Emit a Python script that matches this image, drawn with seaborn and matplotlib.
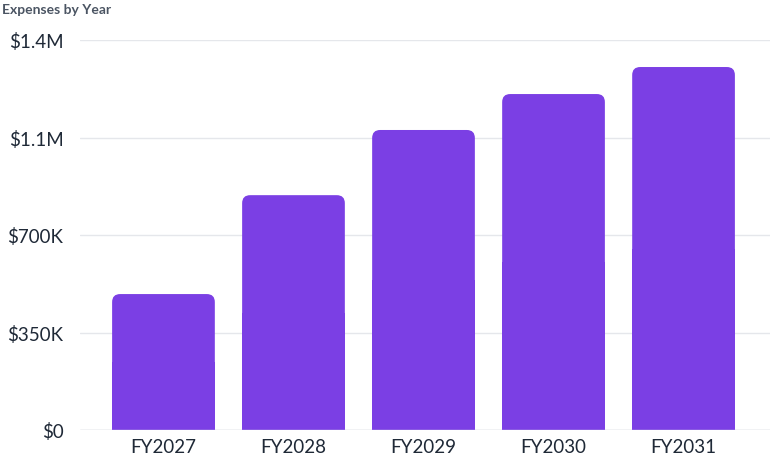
import matplotlib
matplotlib.use("Agg")
import matplotlib.pyplot as plt
import seaborn as sns
import pandas as pd
from matplotlib.patches import FancyBboxPatch

years = ["FY2027", "FY2028", "FY2029", "FY2030", "FY2031"]
expenses = [488000, 843000, 1077000, 1206000, 1303000]
tick_vals = [0, 350000, 700000, 1050000, 1400000]
tick_labels = ["$0", "$350K", "$700K", "$1.1M", "$1.4M"]

sns.set_theme(style="white")
plt.rcParams['font.family'] = ['Lato', 'DejaVu Sans']

fig = plt.figure(figsize=(7.7, 4.77), dpi=100)
ax = fig.add_axes([80/770, 46/477, 690/770, 390/477])
df = pd.DataFrame({"year": years, "exp": expenses})
sns.barplot(data=df, x="year", y="exp", color="#7B3FE4", width=0.79, ax=ax, saturation=1)

ax.set_xlim(-0.642, 4.665)
ax.set_ylim(0, 1400000)
# per-pixel scale for rounding
ppx = (4.665 + 0.642) / 690
ppy = 1400000 / 390
for p in list(ax.patches):
    x, y, w, h = p.get_x(), p.get_y(), p.get_width(), p.get_height()
    p.set_visible(False)
    r = 8 * ppx
    fb = FancyBboxPatch((x + r, y), w - 2*r, h - 8*ppy,
                        boxstyle=f"round,pad={r}", mutation_aspect=ppy/ppx,
                        facecolor="#7B3FE4", edgecolor="none", zorder=3)
    ax.add_patch(fb)
    ax.add_patch(plt.Rectangle((x, 0), w, h/2, facecolor="#7B3FE4", edgecolor="none", zorder=3))

ax.set_yticks(tick_vals)
ax.set_yticklabels(tick_labels)
ax.grid(axis="y", color="#e5e7eb", linewidth=1, zorder=0)
ax.axhline(0, color="#d1d5db", linewidth=1, zorder=4)
ax.set_xlabel("")
ax.set_ylabel("")
for s in ax.spines.values():
    s.set_visible(False)
ax.tick_params(axis="both", length=0, labelsize=13.5, colors="#1f2937", pad=6)
ax.tick_params(axis="y", pad=12)
fig.text(2/770, 1 - 10/477, "Expenses by Year", fontsize=10, fontweight="bold",
         color="#4b5563", va="center", ha="left")

fig.savefig("out.png", dpi=100)
